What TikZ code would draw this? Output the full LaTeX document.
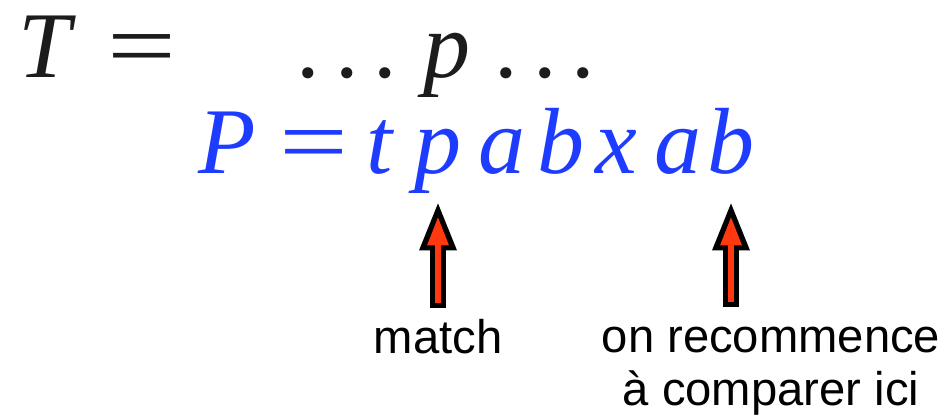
\documentclass[tikz,border=0pt]{standalone}
\usepackage{fontspec}
\usepackage{graphicx}
\setmainfont{Liberation Serif}
\newfontfamily\lblfont{Liberation Sans}
\usetikzlibrary{arrows.meta}
\definecolor{patBlue}{HTML}{1E3CFF}
\definecolor{txtBlack}{HTML}{1C1C1C}
\definecolor{arrRed}{HTML}{FF3810}
\newcommand{\wideeq}{\scalebox{1.3}[1]{=}}

\begin{document}
\begin{tikzpicture}[x=0.5pt,y=-0.5pt,
    sym/.style={anchor=base,inner sep=0pt,font=\fontsize{47pt}{47pt}\selectfont\itshape,text=txtBlack},
    op/.style={sym,font=\fontsize{47pt}{47pt}\selectfont\upshape},
    pat/.style={sym,text=patBlue,text depth=10.5pt},
    lbl/.style={inner sep=0pt,align=center,font=\lblfont\fontsize{23.6pt}{26.5pt}\selectfont},
    outerarr/.style={draw=black,line width=8pt,-{Triangle[length=23.5pt,width=19pt,line width=0pt]},shorten <=5.5pt,shorten >=4pt},
    innerarr/.style={draw=arrRed,line width=3pt,-{Triangle[length=14pt,width=11pt,line width=0pt]},shorten <=8pt,shorten >=11pt}]
  \useasboundingbox (0,0) rectangle (949,417);
  % text line
  \node[sym] (tT) at (45,78) {T};
  \node[op] (tEq) at (142,78) {\wideeq};
  \node[op] (tDotsL) at (347,78) {.\kern7.5pt.\kern7.5pt.};
  \node[sym] (tP) at (447,78) {p};
  \node[op] (tDotsR) at (545,78) {.\kern7.5pt.\kern7.5pt.};
  % pattern line
  \node[pat] (pP) at (227,174) {P};
  \node[op,text=patBlue] (pEq) at (314,174) {\wideeq};
  \node[pat] (pt) at (380,174) {t};
  \node[pat] (pp) at (438,174) {p};
  \node[pat] (pa) at (502,174) {a};
  \node[pat] (pb) at (561,174) {b};
  \node[pat] (px) at (616,174) {x};
  \node[pat] (pa2) at (678,174) {a};
  \node[pat] (pb2) at (731,174) {b};
  % labels
  \node[lbl,anchor=base,text height=17pt] (match) at (438,353) {match};
  \node[lbl,anchor=north] (recom) at (771,318) {\vphantom{h}on recommence\\à comparer ici};
  \draw[outerarr] (match.north) -- (pp.south);
  \draw[innerarr] (match.north) -- (pp.south);
  \draw[outerarr] (pb2 |- recom.north) -- (pb2.south);
  \draw[innerarr] (pb2 |- recom.north) -- (pb2.south);
\end{tikzpicture}
\end{document}
